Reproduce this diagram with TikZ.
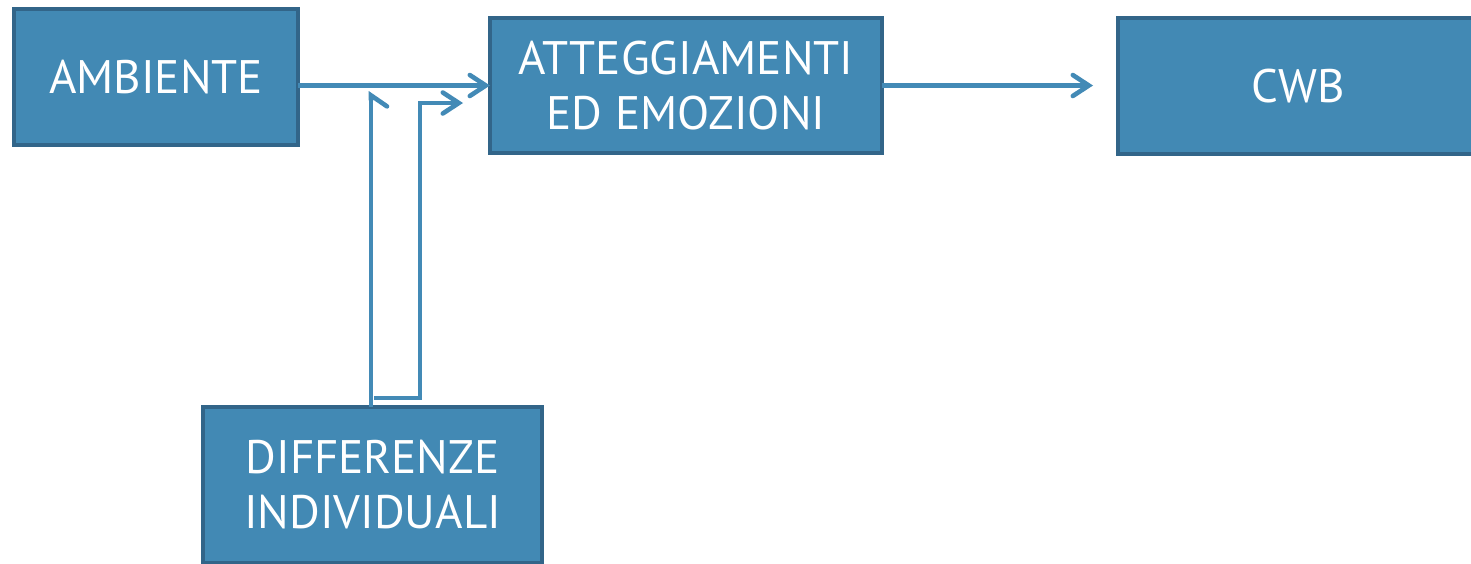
\documentclass[tikz,border=0pt]{standalone}
\usepackage{fontspec}
\setmainfont{PT Sans}
\usetikzlibrary{arrows.meta}
\definecolor{boxfill}{RGB}{66,137,180}
\definecolor{boxline}{RGB}{50,101,137}
\definecolor{linkblue}{RGB}{67,138,182}
\tikzset{%
  bluebox/.style={draw=boxline,line width=4pt,fill=boxfill,text=white,inner sep=0,outer sep=0,align=center,font=\fontsize{47}{55}\selectfont},
  link/.style={draw=linkblue,line width=4.6pt},
  openarrow/.style={-{Straight Barb[length=16pt,width=21pt,line cap=round]}},
  halfarrow/.style={-{Straight Barb[harpoon,swap,length=11pt,width=32pt,line cap=round]}}
}
\begin{document}
\begin{tikzpicture}[x=1pt,y=1pt]
    \useasboundingbox (0,0) rectangle (1471,-563);
    \clip (0,0) rectangle (1471,-563);
    \node[bluebox,minimum width=284pt,minimum height=136pt] (amb) at (156,-77) {AMBIENTE};
    \node[bluebox,minimum width=392pt,minimum height=135pt] (att) at (686,-85.5) {ATTEGGIAMENTI\\ED EMOZIONI};
    \node[bluebox,minimum width=360pt,minimum height=136pt] (cwb) at (1298,-86) {CWB};
    \node[bluebox,minimum width=339pt,minimum height=156pt] (diff) at (372.5,-485) {DIFFERENZE\\INDIVIDUALI};
    \coordinate (uptip) at (371,-91);
    \coordinate (loopstart) at (374,-398);
    \coordinate (riser) at (420,-103);
    \coordinate (looptip) at (463,-103);
    \coordinate (cwbtip) at ([xshift=-25pt]cwb.west);
    \draw[link,openarrow] (amb.east |- att.west) -- (att.west);
    \draw[link,halfarrow] (diff.north -| uptip) -- (uptip);
    \draw[link,openarrow] (loopstart) -| (riser) -- (looptip);
    \draw[link,openarrow] (att.east) -- (att.east -| cwbtip);
  \end{tikzpicture}
\end{document}
